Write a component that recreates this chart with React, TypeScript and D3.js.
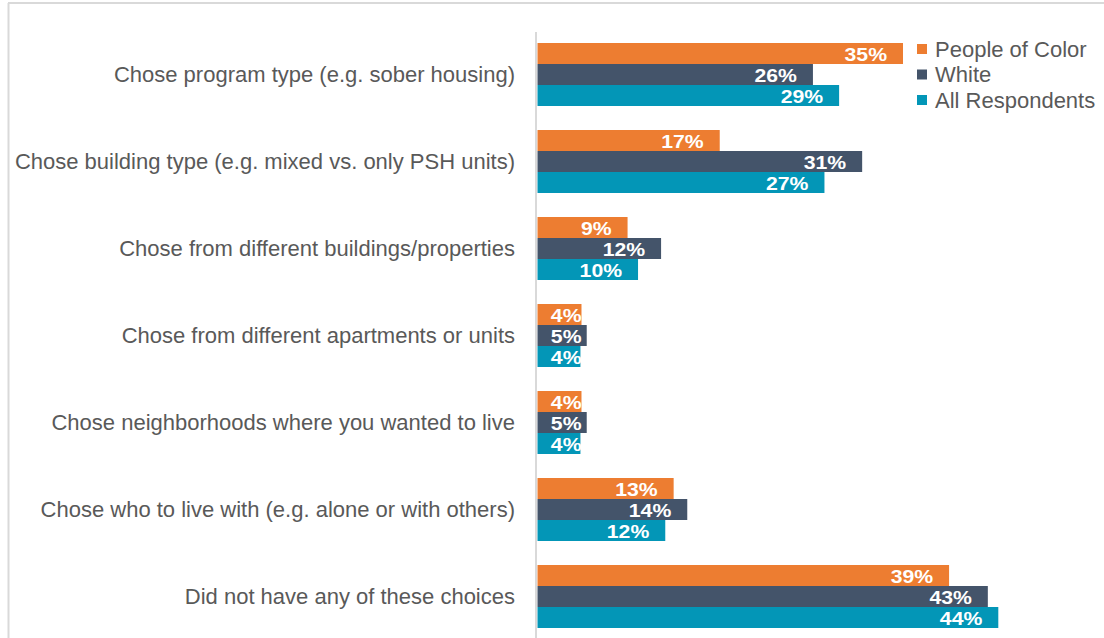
import { useMemo } from "react";
import * as d3 from "d3";

const categories = [
  "Chose program type (e.g. sober housing)",
  "Chose building type (e.g. mixed vs. only PSH units)",
  "Chose from different buildings/properties",
  "Chose from different apartments or units",
  "Chose neighborhoods where you wanted to live",
  "Chose who to live with (e.g. alone or with others)",
  "Did not have any of these choices",
];
const seriesNames = ["People of Color", "White", "All Respondents"];
// bar values; labels show them rounded
const peopleOfColor = [34.9, 17.4, 8.6, 4.2, 4.2, 13.0, 39.3];
const white = [26.3, 31.0, 11.8, 4.7, 4.7, 14.3, 43.0];
const allRespondents = [28.8, 27.4, 9.6, 4.1, 4.1, 12.2, 44.0];
const seriesValues = [peopleOfColor, white, allRespondents];
const colors = ["#ED7D31", "#44546A", "#0396B7"];

const W = 1104;
const H = 638;
const FONT = "'Liberation Sans', Arial, sans-serif";

export default function App() {
  const x = d3.scaleLinear().domain([0, 44]).range([537.5, 998.3]);

  const y = d3
    .scaleBand<string>()
    .domain(categories)
    .range([31, 640])
    .paddingInner(0.276)
    .paddingOuter(0.138);

  const inner = d3
    .scaleBand<string>()
    .domain(seriesNames)
    .range([0, y.bandwidth()]);

  const rows = useMemo(
    () =>
      categories.flatMap((cat, ci) =>
        seriesNames.map((s, si) => ({ cat, s, si, value: seriesValues[si][ci] }))
      ),
    []
  );

  return (
    <svg
      width={W}
      height={H}
      style={{ position: "absolute", left: 0, top: 0, background: "#fff" }}
    >
      {/* frame */}
      <line x1={8} x2={W} y1={3} y2={3} stroke="#d9d9d9" strokeWidth={2} />
      <line x1={8.5} x2={8.5} y1={3} y2={H} stroke="#d9d9d9" strokeWidth={2} />

      {/* bars */}
      {rows.map((d, i) => (
        <rect
          key={i}
          x={x(0)}
          y={y(d.cat)! + inner(d.s)!}
          width={x(d.value) - x(0)}
          height={inner.bandwidth()}
          fill={colors[d.si]}
        />
      ))}

      {/* axis line */}
      <line x1={536} x2={536} y1={32} y2={H} stroke="#d9d9d9" strokeWidth={2} />

      {/* category labels */}
      {categories.map((c) => (
        <text
          key={c}
          x={515}
          y={y(c)! + y.bandwidth() / 2}
          textAnchor="end"
          dominantBaseline="central"
          fontFamily={FONT}
          fontSize={22}
          fill="#595959"
        >
          {c}
        </text>
      ))}

      {/* data labels (kept to bar height so neighbours don't collide) */}
      {rows.map((d, i) => {
        const tx = Math.max(x(d.value) - 16, x(0) + 44);
        const ty = y(d.cat)! + inner(d.s)! + inner.bandwidth() / 2 + 1;
        return (
          <text
            key={`l-${i}`}
            transform={`translate(${tx},${ty}) scale(1.14,1)`}
            textAnchor="end"
            dominantBaseline="central"
            fontFamily={FONT}
            fontWeight="bold"
            fontSize={18.6}
            fill="#fff"
          >
            {Math.round(d.value)}%
          </text>
        );
      })}

      {/* legend */}
      {seriesNames.map((s, i) => (
        <g key={s} transform={`translate(917,${49 + i * 25.5})`}>
          <rect x={0} y={-5} width={10} height={10} fill={colors[i]} />
          <text
            x={18}
            y={0}
            dominantBaseline="central"
            fontFamily={FONT}
            fontSize={22}
            fill="#595959"
          >
            {s}
          </text>
        </g>
      ))}
    </svg>
  );
}
